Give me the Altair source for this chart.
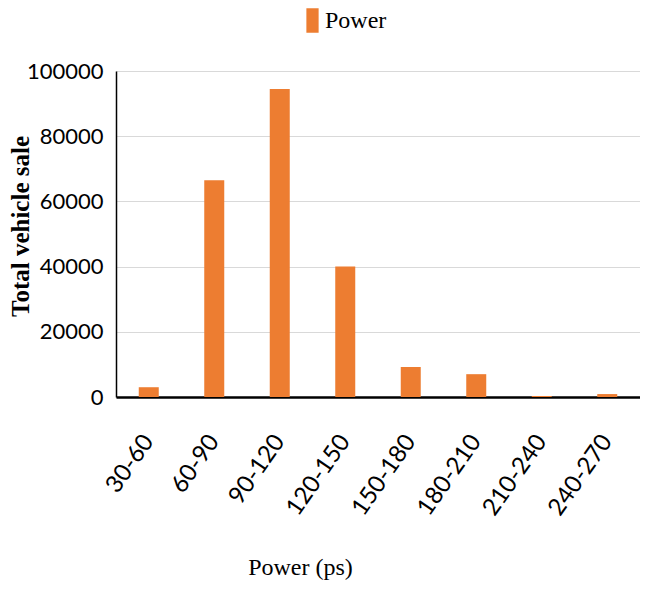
import altair as alt
import pandas as pd

categories = ["30-60", "60-90", "90-120", "120-150", "150-180", "180-210", "210-240", "240-270"]
sales = [3000, 66500, 94500, 40000, 9200, 7000, 300, 900]
series = ["Power"] * len(categories)

df = pd.DataFrame({"range": categories, "sale": sales, "series": series})

chart = alt.Chart(df).mark_bar(size=20, color="#ED7D31").encode(
    x=alt.X("range:N", sort=categories,
            axis=alt.Axis(title="Power (ps)", labelAngle=-55, labelFont="Lato", labelFontSize=24,
                          labelColor="black", labelPadding=40, ticks=False,
                          domainColor="black", domainWidth=2.5,
                          titleFont="Liberation Serif", titleFontSize=24, titleFontWeight="normal",
                          titleColor="black", titleX=184, titleY=170, titleAnchor="middle",
                          titleBaseline="middle")),
    y=alt.Y("sale:Q", scale=alt.Scale(domain=[0, 100000]),
            axis=alt.Axis(title="Total vehicle sale", values=[0, 20000, 40000, 60000, 80000, 100000],
                          format="d", labelFont="Lato", labelFontSize=22, labelColor="black",
                          labelPadding=13, ticks=False, domainColor="black", domainWidth=1.5,
                          gridColor="#d9d9d9", gridWidth=1.2,
                          titleFont="Liberation Serif", titleFontSize=25, titleFontWeight="bold",
                          titleColor="black", titleX=-88, titleY=155, titleAngle=-90,
                          titleBaseline="alphabetic", titleAlign="center")),
    color=alt.Color("series:N", scale=alt.Scale(domain=["Power"], range=["#ED7D31"]),
                    legend=alt.Legend(title=None, orient="none", legendX=184, legendY=-63,
                                      symbolType="M-0.5,-1 h1 v2 h-1 Z", symbolSize=600,
                                      symbolStrokeWidth=0, labelFont="Liberation Serif",
                                      labelFontSize=24, labelColor="black", labelOffset=0)),
).properties(
    width=524, height=326,
    autosize=alt.AutoSizeParams(type="none"),
    padding={"left": 108, "top": 63, "right": 0, "bottom": 186},
).configure_view(stroke=None)

chart.save("out.html", embed_options={"renderer": "svg", "actions": False})
